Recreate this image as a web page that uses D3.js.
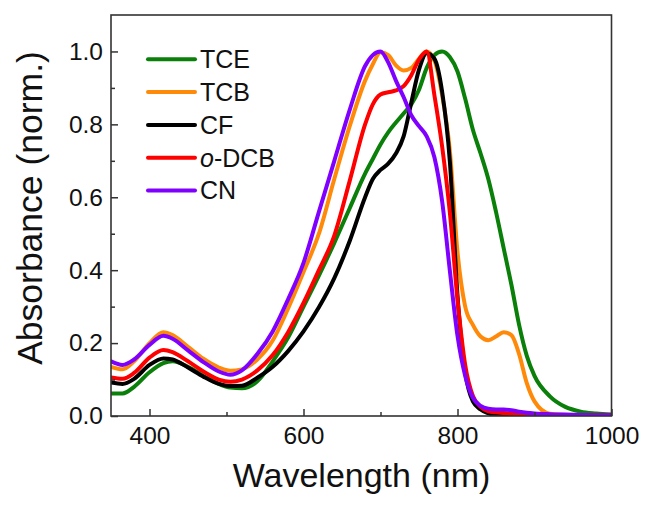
<!DOCTYPE html>
<html>
<head>
<meta charset="utf-8">
<script src="https://cdn.jsdelivr.net/npm/d3@7"></script>
<style>
  body { margin: 0; background: #fff; }
  svg { display: block; }
  text { font-family: "Liberation Sans", Arial, sans-serif; fill: #111; }
</style>
</head>
<body>
<div id="chart"></div>
<script>
// wavelength grid (nm), shared by every series
const wavelengths = [350, 365, 380, 400, 418, 430, 450, 470, 490, 505, 520, 540, 560, 580, 600,
  620, 640, 660, 680, 690, 700, 710, 720, 730, 740, 750, 760, 770, 780, 790, 800, 810, 820,
  830, 840, 850, 860, 870, 880, 890, 900, 920, 940, 960, 980, 1000];

const tce = [0.062, 0.062, 0.080, 0.120, 0.145, 0.150, 0.135, 0.110, 0.088, 0.078, 0.076, 0.095, 0.150,
  0.215, 0.300, 0.385, 0.475, 0.570, 0.665, 0.705, 0.745, 0.778, 0.805, 0.830, 0.855, 0.895, 0.955,
  0.990, 1.000, 0.985, 0.945, 0.870, 0.785, 0.720, 0.650, 0.560, 0.460, 0.360, 0.250, 0.165, 0.110,
  0.054, 0.025, 0.012, 0.007, 0.004];
const tcb = [0.135, 0.128, 0.150, 0.200, 0.230, 0.222, 0.190, 0.157, 0.133, 0.124, 0.128, 0.155, 0.207,
  0.295, 0.395, 0.500, 0.650, 0.795, 0.920, 0.965, 0.998, 0.990, 0.962, 0.948, 0.955, 0.980, 1.000,
  0.975, 0.880, 0.730, 0.450, 0.300, 0.250, 0.218, 0.208, 0.218, 0.230, 0.222, 0.170, 0.090, 0.040,
  0.006, 0.003, 0.002, 0.002, 0.002];
const cf = [0.092, 0.088, 0.102, 0.140, 0.158, 0.155, 0.133, 0.108, 0.088, 0.082, 0.083, 0.105, 0.135,
  0.178, 0.232, 0.298, 0.378, 0.480, 0.600, 0.650, 0.675, 0.692, 0.720, 0.767, 0.860, 0.950, 0.995,
  0.980, 0.890, 0.700, 0.330, 0.120, 0.040, 0.018, 0.007, 0.003, 0.002, 0.002, 0.002, 0.002, 0.002,
  0.002, 0.002, 0.002, 0.002, 0.002];
const odcb = [0.106, 0.102, 0.118, 0.160, 0.181, 0.175, 0.150, 0.122, 0.100, 0.094, 0.100, 0.125, 0.167,
  0.230, 0.310, 0.400, 0.495, 0.645, 0.800, 0.855, 0.882, 0.888, 0.893, 0.905, 0.935, 0.978, 1.000,
  0.880, 0.740, 0.560, 0.320, 0.140, 0.055, 0.025, 0.013, 0.010, 0.008, 0.006, 0.005, 0.004, 0.003,
  0.003, 0.002, 0.002, 0.002, 0.002];
const cn = [0.150, 0.140, 0.155, 0.195, 0.220, 0.212, 0.180, 0.148, 0.122, 0.113, 0.125, 0.170, 0.232,
  0.320, 0.420, 0.560, 0.700, 0.840, 0.960, 0.990, 1.000, 0.970, 0.920, 0.875, 0.825, 0.795, 0.767,
  0.710, 0.590, 0.400, 0.220, 0.110, 0.050, 0.028, 0.020, 0.018, 0.018, 0.016, 0.012, 0.009, 0.007,
  0.005, 0.004, 0.003, 0.002, 0.002];

const seriesNames = ["TCE", "TCB", "CF", "o-DCB", "CN"];
const seriesColors = ["#0a7f0a", "#ff8a0a", "#000000", "#ff0000", "#8000ff"];
const seriesValues = [tce, tcb, cf, odcb, cn];

const xMajorTicks = [400, 600, 800, 1000];
const xMinorTicks = [500, 700, 900];
const yMajorTicks = [0, 0.2, 0.4, 0.6, 0.8, 1.0];
const yMinorTicks = [0.1, 0.3, 0.5, 0.7, 0.9];

const width = 646, height = 505;
const plot = { left: 111, right: 611.5, top: 15, bottom: 416 };

const svg = d3.select("#chart").append("svg")
  .attr("width", width)
  .attr("height", height);

const x = d3.scaleLinear().domain([350, 1000]).range([plot.left, plot.right]);
const y = d3.scaleLinear().domain([0, 1.1]).range([plot.bottom, plot.top]);

svg.append("clipPath").attr("id", "clip")
  .append("rect")
  .attr("x", plot.left).attr("y", plot.top)
  .attr("width", plot.right - plot.left)
  .attr("height", plot.bottom - plot.top);

// curves
const line = d3.line()
  .x(d => x(d[0]))
  .y(d => y(d[1]))
  .curve(d3.curveMonotoneX);

const curves = svg.append("g").attr("clip-path", "url(#clip)");
seriesValues.forEach((vals, i) => {
  curves.append("path")
    .datum(wavelengths.map((w, j) => [w, vals[j]]))
    .attr("fill", "none")
    .attr("stroke", seriesColors[i])
    .attr("stroke-width", 4)
    .attr("stroke-linejoin", "round")
    .attr("stroke-linecap", "round")
    .attr("d", line);
});

// axes (ticks point inward)
const axisColor = "#333";
const styleAxis = g => {
  g.select(".domain").remove();
  g.selectAll(".tick line").attr("stroke", axisColor).attr("stroke-width", 1.5);
  g.selectAll(".tick text").style("font-size", "24.5px").attr("fill", "#111");
};

svg.append("g")
  .attr("transform", `translate(0,${plot.bottom})`)
  .call(d3.axisBottom(x).tickValues(xMajorTicks).tickSize(-7).tickSizeOuter(0).tickPadding(11)
    .tickFormat(d3.format("d")))
  .call(styleAxis);
svg.append("g")
  .attr("transform", `translate(0,${plot.bottom})`)
  .call(d3.axisBottom(x).tickValues(xMinorTicks).tickSize(-4).tickFormat(""))
  .call(styleAxis);

svg.append("g")
  .attr("transform", `translate(${plot.left},0)`)
  .call(d3.axisLeft(y).tickValues(yMajorTicks).tickSize(-7).tickSizeOuter(0).tickPadding(8)
    .tickFormat(d3.format(".1f")))
  .call(styleAxis);
svg.append("g")
  .attr("transform", `translate(${plot.left},0)`)
  .call(d3.axisLeft(y).tickValues(yMinorTicks).tickSize(-4).tickFormat(""))
  .call(styleAxis);

// frame
svg.append("rect")
  .attr("x", plot.left).attr("y", plot.top)
  .attr("width", plot.right - plot.left)
  .attr("height", plot.bottom - plot.top)
  .attr("fill", "none")
  .attr("stroke", axisColor)
  .attr("stroke-width", 1.6);

// axis titles
svg.append("text")
  .attr("x", (233 + 490) / 2)
  .attr("y", 487)
  .attr("text-anchor", "middle")
  .style("font-size", "34px")
  .text("Wavelength (nm)");

svg.append("text")
  .attr("transform", "translate(42,208) rotate(-90)")
  .attr("text-anchor", "middle")
  .style("font-size", "35.5px")
  .text("Absorbance (norm.)");

// legend
const legend = svg.append("g");
seriesNames.forEach((name, i) => {
  const cy = 59.3 + i * 32.8;
  legend.append("line")
    .attr("x1", 148).attr("x2", 195)
    .attr("y1", cy).attr("y2", cy)
    .attr("stroke", seriesColors[i])
    .attr("stroke-width", 4)
    .attr("stroke-linecap", "round");
  const t = legend.append("text")
    .attr("x", 200)
    .attr("y", cy + 8.8)
    .style("font-size", "25px");
  if (name.startsWith("o-")) {
    t.append("tspan").style("font-style", "italic").text("o");
    t.append("tspan").text(name.slice(1));
  } else {
    t.text(name);
  }
});
</script>
</body>
</html>
